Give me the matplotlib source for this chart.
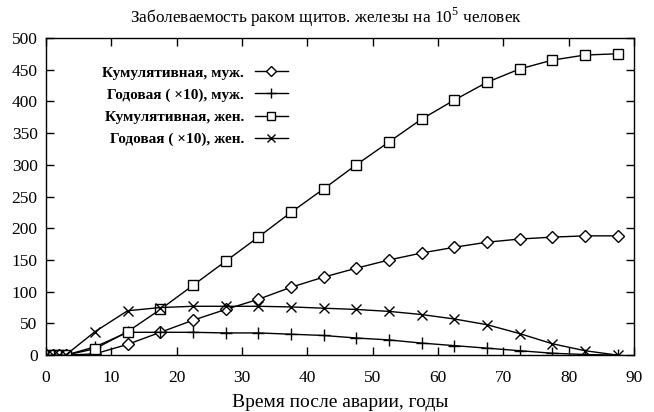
import matplotlib
matplotlib.use("Agg")
import matplotlib.pyplot as plt

years = [0, 1, 2, 3, 7.5, 12.5, 17.5, 22.5, 27.5, 32.5, 37.5, 42.5, 47.5,
         52.5, 57.5, 62.5, 67.5, 72.5, 77.5, 82.5, 87.5]
cum_men = [0, 0, 0, 0, 2, 17, 36, 55, 72, 88, 107, 123, 137, 150, 161, 170,
           178, 183, 186, 188, 188]
ann_men = [0, 0, 0, 0, 13, 36, 36, 36, 35, 35, 33, 31, 27, 24, 19, 15, 11,
           7, 3, 1, 0]
cum_women = [0, 0, 0, 0, 10, 37, 72, 110, 148, 186, 225, 262, 300, 336, 372,
             402, 430, 451, 465, 473, 475]
ann_women = [0, 0, 0, 0, 37, 70, 75, 77, 77, 77, 76, 74, 72, 69, 64, 57, 48,
             34, 18, 7, 0]

labels = ["Кумулятивная, муж.", "Годовая ( ×10), муж.",
          "Кумулятивная, жен.", "Годовая ( ×10), жен."]
title = "Заболеваемость раком щитов. железы на 10$^5$ человек"
xlabel = "Время после аварии, годы"

plt.rcParams['font.family'] = ['Liberation Serif', 'DejaVu Serif']
plt.rcParams['mathtext.fontset'] = 'custom'
plt.rcParams['mathtext.rm'] = 'Liberation Serif'

fig = plt.figure(figsize=(6.54, 4.12), dpi=100)
ax = fig.add_axes([0.0703, 0.138, 0.899, 0.770])

base = dict(color='black', lw=1.0, mew=1.0)
ax.plot(years, cum_men, marker='D', mfc='white', ms=6.5, label=labels[0], **base)
ax.plot(years, ann_men, marker='+', ms=8, label=labels[1], **base)
ax.plot(years, cum_women, marker='s', mfc='white', ms=7, label=labels[2], **base)
ax.plot(years, ann_women, marker='x', ms=6.5, label=labels[3], **base)

ax.set_xlim(0, 90)
ax.set_ylim(0, 500)
ax.set_xticks(range(0, 91, 10))
ax.set_yticks(range(0, 501, 50))
ax.tick_params(direction='in', top=True, right=True, length=6, width=1,
               labelsize=12.5)
ax.tick_params(axis='y', pad=6)
ax.tick_params(axis='x', pad=11)
for s in ax.spines.values():
    s.set_linewidth(1.0)

fig.suptitle(title, x=0.498, y=0.958, va='center', fontsize=12.4)
ax.set_xlabel(xlabel, fontsize=14, labelpad=5.5)

leg = ax.legend(loc='upper left', bbox_to_anchor=(0.072, 0.955), frameon=False,
                markerfirst=False, prop={'family': 'Liberation Serif',
                                         'weight': 'bold', 'size': 11},
                handlelength=2.2, labelspacing=0.55, handletextpad=0.7,
                markerscale=0.85)
for t in leg.get_texts():
    t.set_ha('right')
leg._legend_box.align = 'right'

fig.savefig("out.png", dpi=100)
